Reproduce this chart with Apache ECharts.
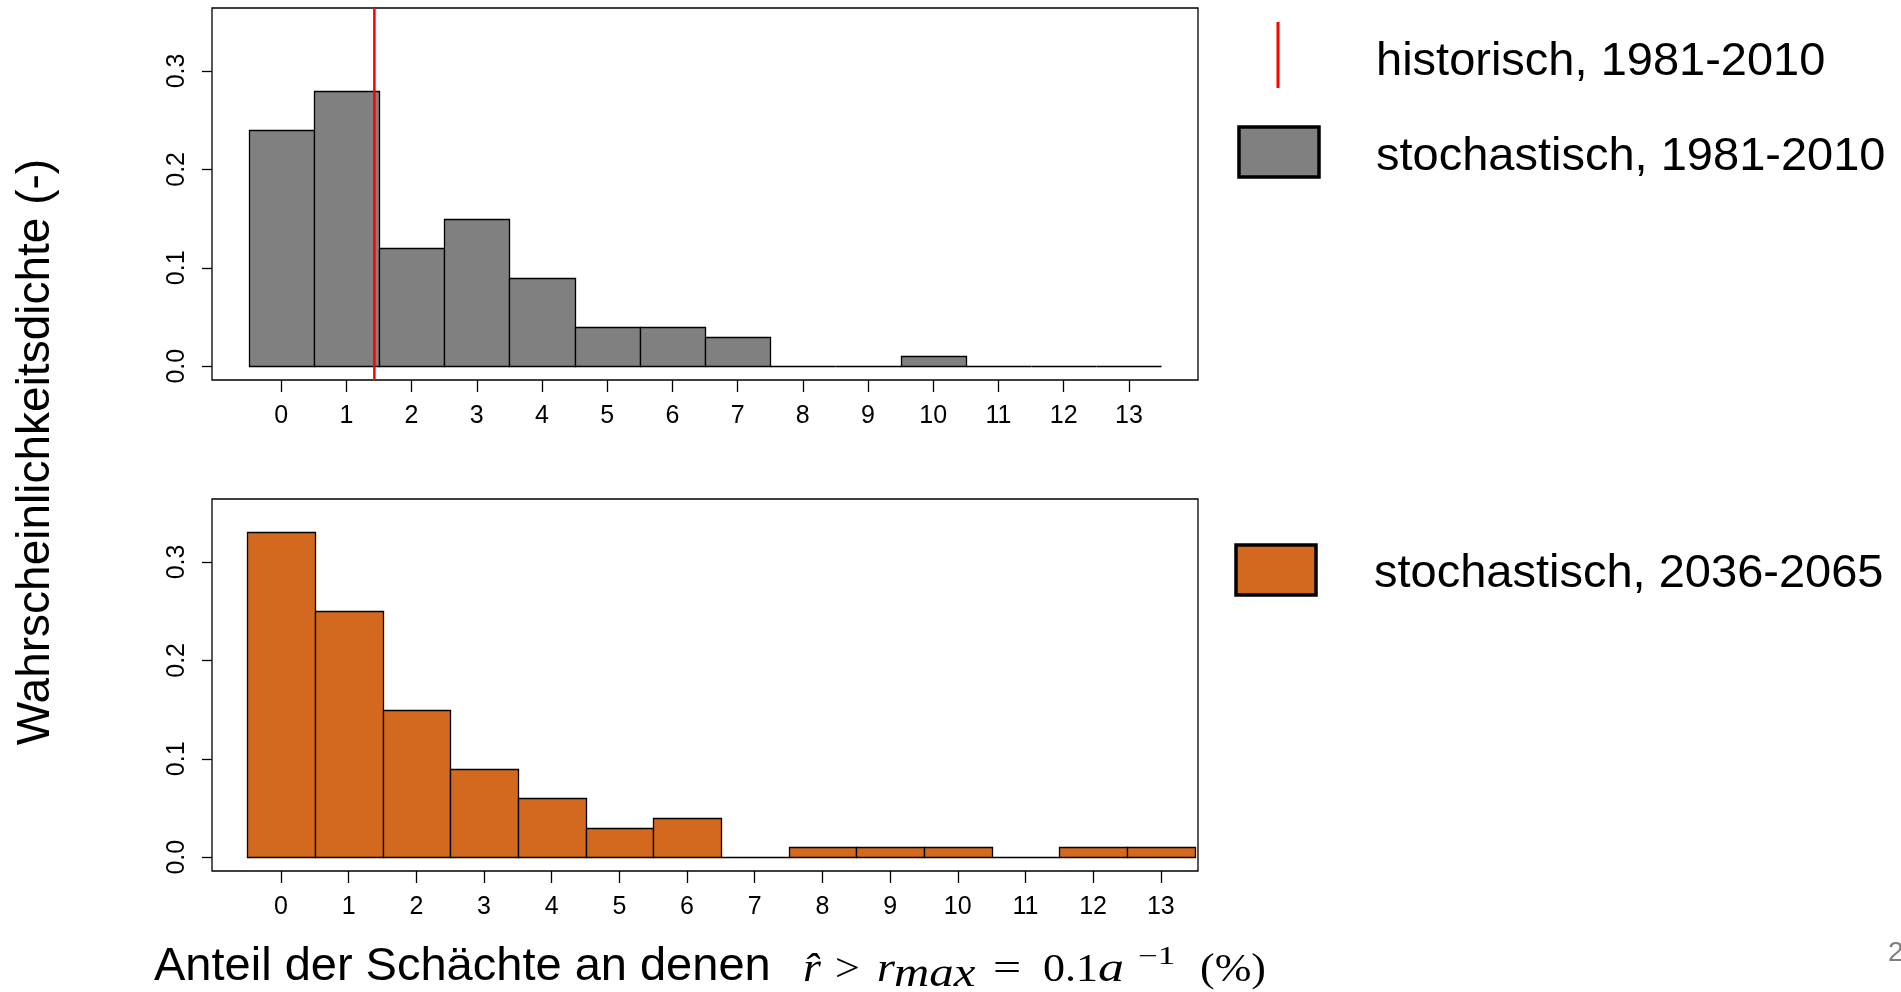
<!DOCTYPE html>
<html><head><meta charset="utf-8">
<script src="https://cdn.jsdelivr.net/npm/echarts@6/dist/echarts.min.js"></script>
<style>html,body{margin:0;padding:0;background:#fff}#c{width:1901px;height:992px}</style>
</head><body><div id="c"></div>
<script>
// ---- data ----
const bins = [0,1,2,3,4,5,6,7,8,9,10,11,12,13];
const densityHist = [0.24,0.28,0.12,0.15,0.09,0.04,0.04,0.03,0,0,0.01,0,0,0];
const densityFuture = [0.33,0.25,0.15,0.09,0.06,0.03,0.04,0,0.01,0.01,0.01,0,0.01,0.01];
const historicValue = 1.43;
const xTicks = [0,1,2,3,4,5,6,7,8,9,10,11,12,13];
const yTicks = [0,0.1,0.2,0.3];
const legendLabels = ['historisch, 1981-2010','stochastisch, 1981-2010','stochastisch, 2036-2065'];
const yTitle = 'Wahrscheinlichkeitsdichte (-)';
const xTitle = 'Anteil der Schächte an denen';
const pageNumber = '2';

// ---- styling ----
const SANS = "'Liberation Sans', Arial, sans-serif";
const SERIF = "'Liberation Serif', serif";
const GRAY = '#808080';
const ORANGE = '#D2691E';

const chart = echarts.init(document.getElementById('c'), null, {renderer:'canvas'});

function renderBin(params, api){
  const x = api.value(0), y = api.value(1);
  const p0 = api.coord([x-0.5, 0]);
  const p1 = api.coord([x+0.5, y]);
  const x0 = Math.round(p0[0])+0.5, x1 = Math.round(p1[0])+0.5;
  const yb = Math.round(p0[1])+0.5, yt = Math.round(p1[1])+0.5;
  if (yb - yt < 0.5) {
    return {type:'line', shape:{x1:x0,y1:yb,x2:x1,y2:yb}, style:{stroke:'#000', lineWidth:1.3}};
  }
  return {type:'rect', shape:{x:x0, y:yt, width:x1-x0, height:yb-yt},
          style:{fill: api.visual('color'), stroke:'#000', lineWidth:1.3}};
}

function xAxisCfg(idx, min, max){
  return {
    type:'value', gridIndex:idx, min:min, max:max, position:'bottom',
    axisLine:{show:false, onZero:false},
    splitLine:{show:false},
    axisTick:{show:true, customValues:xTicks, length:12, inside:false, lineStyle:{color:'#000', width:1.3}},
    axisLabel:{customValues:xTicks, fontSize:25, color:'#000', fontFamily:SANS, margin:24}
  };
}
function yAxisCfg(idx){
  return {
    type:'value', gridIndex:idx, min:-0.014, max:0.364, position:'left',
    axisLine:{show:false, onZero:false},
    splitLine:{show:false},
    axisTick:{show:true, customValues:yTicks, length:10, lineStyle:{color:'#000', width:1.3}},
    axisLabel:{customValues:yTicks, rotate:90, fontSize:25, color:'#000', fontFamily:SANS, margin:22,
               formatter:(v)=>v.toFixed(1)}
  };
}

const mY = 970;
function mt(text, x, y, size, italic, sx){
  return {type:'text', x:x, y:y, scaleX:sx||1.15, originX:0, originY:0,
          style:{text:text, font:`${italic?'italic ':''}${size}px ${SERIF}`, fill:'#000', align:'left', verticalAlign:'middle'}};
}
const graphics = [
  // y title
  {type:'text', x:36, y:452, rotation:Math.PI/2,
   style:{text:yTitle, font:`46px ${SANS}`, fill:'#000', align:'center', verticalAlign:'middle'}},
  // x title
  {type:'text', x:154, y:967, style:{text:xTitle, font:`47px ${SANS}`, fill:'#000', align:'left', verticalAlign:'middle'}},
  mt('r\u0302', 803, mY, 40, true),
  mt('>', 835, mY, 40, false, 1.1),
  mt('r', 877, mY, 40, true),
  mt('max', 894, 975, 40, true, 1.22),
  mt('=', 993, mY, 40, false, 1.25),
  mt('0.1', 1043, mY, 40, false, 1.1),
  mt('a', 1098, mY, 40, true, 1.3),
  mt('\u22121', 1138, 957, 25, false, 1.4),
  mt('(%)', 1200, mY, 40, false, 1.1),
  // page number
  {type:'text', x:1888, y:953, style:{text:pageNumber, font:`28px ${SANS}`, fill:'#7f7f7f', align:'left', verticalAlign:'middle'}},
  // legend
  {type:'line', shape:{x1:1278,y1:22,x2:1278,y2:88}, style:{stroke:'#FF0000', lineWidth:3}},
  {type:'text', x:1376, y:62, style:{text:legendLabels[0], font:`47px ${SANS}`, fill:'#000', align:'left', verticalAlign:'middle'}},
  {type:'rect', shape:{x:1239,y:127,width:80,height:50}, style:{fill:GRAY, stroke:'#000', lineWidth:3.5}},
  {type:'text', x:1376, y:157, style:{text:legendLabels[1], font:`47px ${SANS}`, fill:'#000', align:'left', verticalAlign:'middle'}},
  {type:'rect', shape:{x:1236,y:545,width:80,height:50}, style:{fill:ORANGE, stroke:'#000', lineWidth:3.5}},
  {type:'text', x:1374, y:574, style:{text:legendLabels[2], font:`47px ${SANS}`, fill:'#000', align:'left', verticalAlign:'middle'}}
];

const option = {
  animation:false,
  backgroundColor:'#fff',
  grid:[
    {left:212, top:8, width:986, height:372, show:true, borderColor:'#000', borderWidth:1.3, backgroundColor:'transparent'},
    {left:212, top:499, width:986, height:372, show:true, borderColor:'#000', borderWidth:1.3, backgroundColor:'transparent'}
  ],
  xAxis:[ xAxisCfg(0, -1.06, 14.06), xAxisCfg(1, -1.02, 13.55) ],
  yAxis:[ yAxisCfg(0), yAxisCfg(1) ],
  series:[
    {type:'custom', xAxisIndex:0, yAxisIndex:0, name:legendLabels[1], itemStyle:{color:GRAY},
     renderItem:renderBin, data:bins.map((b,i)=>[b, densityHist[i]]), silent:true},
    {type:'custom', xAxisIndex:1, yAxisIndex:1, name:legendLabels[2], itemStyle:{color:ORANGE},
     renderItem:renderBin, data:bins.map((b,i)=>[b, densityFuture[i]]), silent:true},
    {type:'line', xAxisIndex:0, yAxisIndex:0, name:legendLabels[0], symbol:'none', silent:true,
     lineStyle:{color:'#FF0000', width:2.5},
     data:[[historicValue,-0.014],[historicValue,0.364]]}
  ],
  graphic:graphics
};
chart.setOption(option);
</script></body></html>
